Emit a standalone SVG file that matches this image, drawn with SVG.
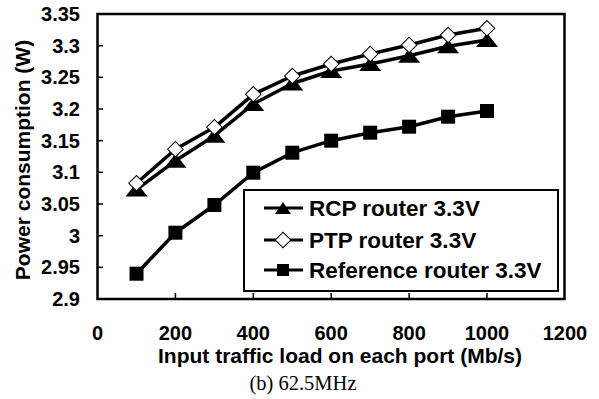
<svg xmlns="http://www.w3.org/2000/svg" width="599" height="399" viewBox="0 0 599 399">
  <style>
    .axis { font-family: "Liberation Sans", Arial, sans-serif; font-weight: bold; font-size: 20px; fill: #000; }
    .title { font-family: "Liberation Sans", Arial, sans-serif; font-weight: bold; font-size: 21px; fill: #000; }
    .legend { font-family: "Liberation Sans", Arial, sans-serif; font-size: 22.5px; fill: #000; font-weight: bold; }
    .caption { font-family: "Liberation Serif", "Times New Roman", serif; font-size: 20.5px; fill: #000; }
    .frame { fill: none; stroke: #000; stroke-width: 2.5; }
    .tick { stroke: #000; stroke-width: 1.5; }
    .series { fill: none; stroke: #000; stroke-width: 3.5; stroke-linejoin: round; }
  </style>
  <defs>
    <path id="tri" d="M0,-7 L11,7 L-11,7 Z" fill="#000"/>
    <rect id="dia" x="-5.5" y="-5.5" width="11" height="11" transform="rotate(45)" fill="#fff" stroke="#000" stroke-width="1"/>
    <rect id="sq" x="-7" y="-7" width="14" height="14" fill="#000"/>
    <path id="tri-s" d="M0,-6 L8,6 L-8,6 Z" fill="#000"/>
    <rect id="sq-s" x="-6" y="-6" width="12" height="12" fill="#000"/>
  </defs>

  <rect width="599" height="399" fill="#fff"/>

  <!-- plot frame and ticks -->
  <g id="axes">
    <rect class="frame" x="97.5" y="14" width="467" height="285"/>
    <g class="tick">
      <line x1="97.5" y1="45.7" x2="103" y2="45.7"/>
      <line x1="97.5" y1="77.3" x2="103" y2="77.3"/>
      <line x1="97.5" y1="109" x2="103" y2="109"/>
      <line x1="97.5" y1="140.7" x2="103" y2="140.7"/>
      <line x1="97.5" y1="172.3" x2="103" y2="172.3"/>
      <line x1="97.5" y1="204" x2="103" y2="204"/>
      <line x1="97.5" y1="235.7" x2="103" y2="235.7"/>
      <line x1="97.5" y1="267.3" x2="103" y2="267.3"/>
      <line x1="175.4" y1="299" x2="175.4" y2="293"/>
      <line x1="253.3" y1="299" x2="253.3" y2="293"/>
      <line x1="331.2" y1="299" x2="331.2" y2="293"/>
      <line x1="409.1" y1="299" x2="409.1" y2="293"/>
      <line x1="487" y1="299" x2="487" y2="293"/>
    </g>
    <g class="axis" text-anchor="end">
      <text x="80" y="21">3.35</text>
      <text x="80" y="52.7">3.3</text>
      <text x="80" y="84.3">3.25</text>
      <text x="80" y="116">3.2</text>
      <text x="80" y="147.7">3.15</text>
      <text x="80" y="179.3">3.1</text>
      <text x="80" y="211">3.05</text>
      <text x="80" y="242.7">3</text>
      <text x="80" y="274.3">2.95</text>
      <text x="80" y="306">2.9</text>
    </g>
    <g class="axis" text-anchor="middle">
      <text x="97.5" y="340">0</text>
      <text x="175.4" y="340">200</text>
      <text x="253.3" y="340">400</text>
      <text x="331.2" y="340">600</text>
      <text x="409.1" y="340">800</text>
      <text x="487" y="340">1000</text>
      <text x="564.9" y="340">1200</text>
    </g>
    <text class="title" x="340" y="363" text-anchor="middle">Input traffic load on each port (Mb/s)</text>
    <text class="title" transform="translate(30,160) rotate(-90)" text-anchor="middle">Power consumption (W)</text>
  </g>

  <!-- data lines -->
  <g id="connectors">
    <polyline class="series" points="136.5,189.5 175.4,160.8 214.4,135.7 253.3,104 292.3,83.5 331.2,71 370.2,64 409.1,55.8 448.1,46.3 487,40"/>
    <polyline class="series" points="136.5,183.3 175.4,149.3 214.4,127.3 253.3,94.3 292.3,76 331.2,64 370.2,54 409.1,45 448.1,35 487,28.3"/>
    <polyline class="series" stroke-width="3" points="136.5,273.7 175.4,232.7 214.4,205 253.3,172.7 292.3,152.7 331.2,140.7 370.2,132.7 409.1,126.7 448.1,116.7 487,111"/>
  </g>

  <!-- RCP router markers -->
  <g id="rcp">
    <use href="#tri" x="136.5" y="189.5"/>
    <use href="#tri" x="175.4" y="160.8"/>
    <use href="#tri" x="214.4" y="135.7"/>
    <use href="#tri" x="253.3" y="104"/>
    <use href="#tri" x="292.3" y="83.5"/>
    <use href="#tri" x="331.2" y="71"/>
    <use href="#tri" x="370.2" y="64"/>
    <use href="#tri" x="409.1" y="55.8"/>
    <use href="#tri" x="448.1" y="46.3"/>
    <use href="#tri" x="487" y="40"/>
  </g>

  <!-- PTP router markers -->
  <g id="ptp">
    <use href="#dia" x="136.5" y="183.3"/>
    <use href="#dia" x="175.4" y="149.3"/>
    <use href="#dia" x="214.4" y="127.3"/>
    <use href="#dia" x="253.3" y="94.3"/>
    <use href="#dia" x="292.3" y="76"/>
    <use href="#dia" x="331.2" y="64"/>
    <use href="#dia" x="370.2" y="54"/>
    <use href="#dia" x="409.1" y="45"/>
    <use href="#dia" x="448.1" y="35"/>
    <use href="#dia" x="487" y="28.3"/>
  </g>

  <!-- reference router markers -->
  <g id="reference">
    <use href="#sq" x="136.5" y="273.7"/>
    <use href="#sq" x="175.4" y="232.7"/>
    <use href="#sq" x="214.4" y="205"/>
    <use href="#sq" x="253.3" y="172.7"/>
    <use href="#sq" x="292.3" y="152.7"/>
    <use href="#sq" x="331.2" y="140.7"/>
    <use href="#sq" x="370.2" y="132.7"/>
    <use href="#sq" x="409.1" y="126.7"/>
    <use href="#sq" x="448.1" y="116.7"/>
    <use href="#sq" x="487" y="111"/>
  </g>

  <!-- legend -->
  <g id="legend">
    <rect x="244" y="190" width="314" height="101" fill="#fff" stroke="#000" stroke-width="2"/>
    <line x1="264" y1="208" x2="303" y2="208" stroke="#000" stroke-width="3"/>
    <use href="#tri-s" x="283" y="208"/>
    <line x1="264" y1="240" x2="303" y2="240" stroke="#000" stroke-width="3"/>
    <use href="#dia" x="283" y="240"/>
    <line x1="264" y1="270" x2="303" y2="270" stroke="#000" stroke-width="3"/>
    <use href="#sq-s" x="283" y="270"/>
    <text class="legend" x="309" y="216">RCP router 3.3V</text>
    <text class="legend" x="309" y="248">PTP router 3.3V</text>
    <text class="legend" x="309" y="278">Reference router 3.3V</text>
  </g>

  <text class="caption" x="303" y="390" text-anchor="middle">(b) 62.5MHz</text>
</svg>
